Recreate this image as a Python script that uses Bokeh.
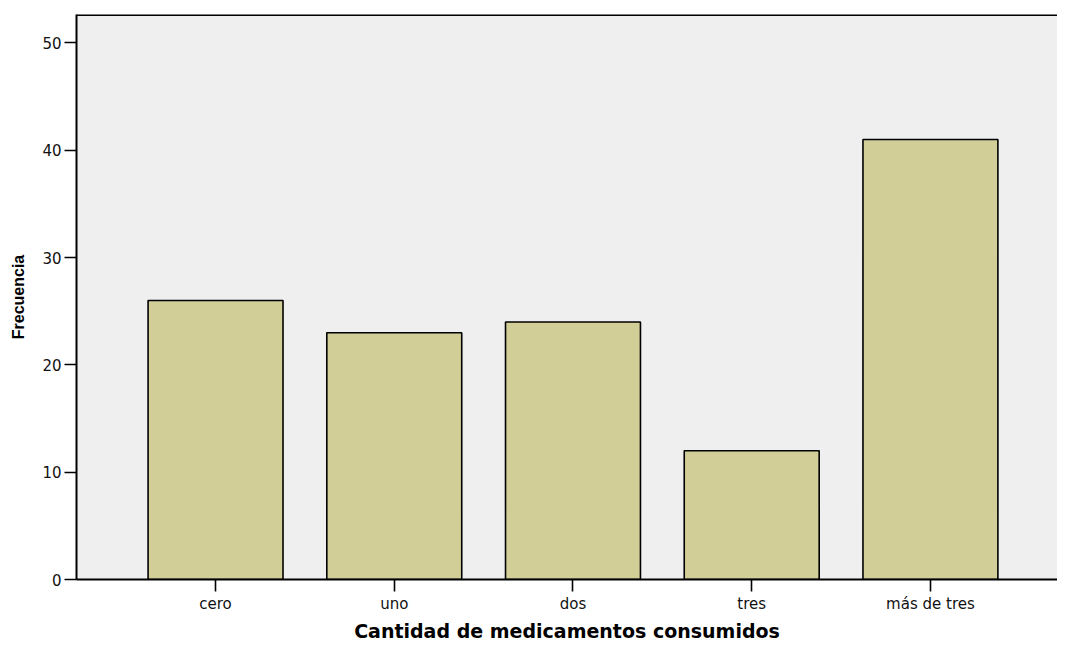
from bokeh.plotting import figure
from bokeh.models import FixedTicker, Range1d, Span, ColumnDataSource
from bokeh.embed import file_html
from bokeh.resources import INLINE

categories = ["cero", "uno", "dos", "tres", "más de tres"]
frecuencias = [26, 23, 24, 12, 41]
y_ticks = [0, 10, 20, 30, 40, 50]

positions = list(range(len(categories)))
source = ColumnDataSource(dict(x=positions, top=frecuencias, cat=categories))

Y_END = 52.65

p = figure(width=1057, height=644, output_backend="svg", toolbar_location=None,
           x_range=Range1d(-0.778, 4.711), y_range=Range1d(0, Y_END),
           min_border_left=76, min_border_right=0, min_border_top=14, min_border_bottom=0)

p.background_fill_color = "#EFEFEF"
p.border_fill_color = "white"
p.outline_line_color = None
p.xgrid.visible = False
p.ygrid.visible = False

p.vbar(x="x", top="top", bottom=0, width=0.755, source=source,
       fill_color="#D2CE98", line_color="black", line_width=1.6)

for ax in (p.xaxis[0], p.yaxis[0]):
    ax.axis_line_color = "black"
    ax.axis_line_width = 2
    ax.major_tick_line_color = "black"
    ax.major_tick_line_width = 1.6
    ax.major_tick_in = 0
    ax.major_tick_out = 12
    ax.minor_tick_line_color = None
    ax.major_label_text_font = "DejaVu Sans"
    ax.major_label_text_font_size = "15px"
    ax.major_label_text_color = "#111111"
    ax.axis_label_text_color = "black"
    ax.axis_label_text_font_style = "bold"

p.xaxis.ticker = FixedTicker(ticks=positions)
p.xaxis.major_label_overrides = {i: c for i, c in enumerate(categories)}
p.xaxis.major_label_standoff = 3
p.xaxis.axis_label = "Cantidad de medicamentos consumidos"
p.xaxis.axis_label_text_font = "DejaVu Sans"
p.xaxis.axis_label_text_font_size = "19px"
p.xaxis.axis_label_standoff = 4

p.yaxis.ticker = FixedTicker(ticks=y_ticks)
p.yaxis.major_label_standoff = 3
p.yaxis.axis_label = "Frecuencia"
p.yaxis.axis_label_text_font = "Liberation Sans"
p.yaxis.axis_label_text_font_size = "16px"
p.yaxis.axis_label_standoff = 12

top_line = Span(location=Y_END, dimension="width", line_color="black", line_width=3)
p.add_layout(top_line)

open("out.html", "w").write(file_html(p, INLINE))
